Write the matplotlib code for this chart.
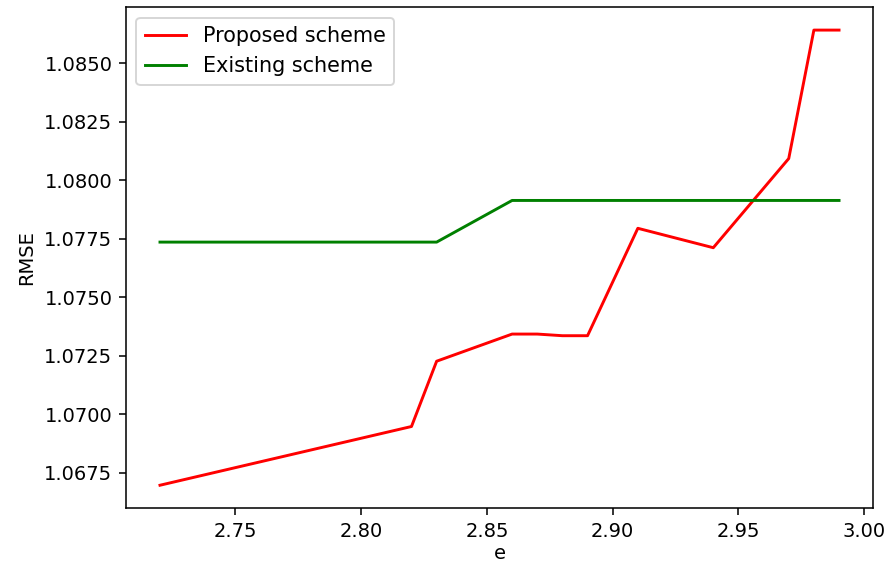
import matplotlib
matplotlib.use("Agg")
import matplotlib.pyplot as plt

# e values at each vertex of the curves
e_proposed = [2.72, 2.82, 2.83, 2.86, 2.87, 2.88, 2.89, 2.91, 2.94, 2.97, 2.98, 2.99]
rmse_proposed = [1.06697, 1.06948, 1.07227, 1.07343, 1.07343, 1.07336, 1.07336,
                 1.07795, 1.07712, 1.08093, 1.08642, 1.08642]

e_existing = [2.72, 2.83, 2.86, 2.99]
rmse_existing = [1.07736, 1.07736, 1.07914, 1.07914]

DPI = 140
fig = plt.figure(figsize=(887 / DPI, 564 / DPI), dpi=DPI)
ax = fig.add_axes([0.1421, 0.0993, 0.9842 - 0.1421, 0.987 - 0.0993])

ax.plot(e_proposed, rmse_proposed, color="red", label="Proposed scheme")
ax.plot(e_existing, rmse_existing, color="green", label="Existing scheme")

ax.set_xticks([2.75, 2.80, 2.85, 2.90, 2.95, 3.00])
ax.set_yticks([1.0675, 1.0700, 1.0725, 1.0750, 1.0775, 1.0800, 1.0825, 1.0850])
ax.set_yticklabels([f"{v:.4f}" for v in ax.get_yticks()])
ax.set_xticklabels([f"{v:.2f}" for v in ax.get_xticks()])

ax.set_xlabel("e", labelpad=2)
ax.set_ylabel("RMSE")
ax.legend(loc="upper left", fontsize=10.7)

fig.savefig("out.png", dpi=DPI)
